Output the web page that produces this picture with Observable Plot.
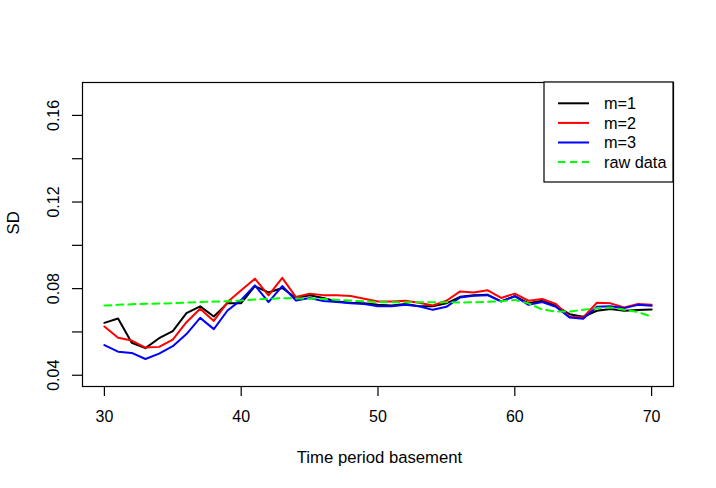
<!DOCTYPE html>
<html><head><meta charset="utf-8">
<script src="https://cdn.jsdelivr.net/npm/d3@7"></script>
<script src="https://cdn.jsdelivr.net/npm/@observablehq/plot@0.6"></script>
<style>body{margin:0;background:#fff}#chart{width:716px;height:488px}</style>
</head><body><div id="chart"></div>
<script>
const period = [30,31,32,33,34,35,36,37,38,39,40,41,42,43,44,45,46,47,48,49,50,51,52,53,54,55,56,57,58,59,60,61,62,63,64,65,66,67,68,69,70];
const m1 = [0.0642,0.0662,0.0550,0.0525,0.0571,0.0604,0.0687,0.0718,0.0671,0.0733,0.0733,0.0812,0.0782,0.0803,0.0757,0.0769,0.0757,0.0741,0.0735,0.0733,0.0726,0.0722,0.0729,0.0719,0.0719,0.0732,0.0762,0.0770,0.0772,0.0741,0.0765,0.0732,0.0744,0.0721,0.0682,0.0670,0.0698,0.0706,0.0698,0.0701,0.0704];
const m2 = [0.0625,0.0573,0.0560,0.0528,0.0531,0.0565,0.0645,0.0707,0.0651,0.0738,0.0792,0.0846,0.0769,0.0850,0.0761,0.0776,0.0770,0.0769,0.0766,0.0753,0.0741,0.0741,0.0744,0.0735,0.0722,0.0744,0.0787,0.0782,0.0793,0.0757,0.0777,0.0744,0.0752,0.0729,0.0670,0.0667,0.0735,0.0732,0.0713,0.0729,0.0725];
const m3 = [0.0539,0.0509,0.0503,0.0475,0.0500,0.0534,0.0590,0.0665,0.0613,0.0699,0.0748,0.0815,0.0738,0.0812,0.0745,0.0757,0.0743,0.0738,0.0732,0.0729,0.0719,0.0719,0.0725,0.0719,0.0702,0.0716,0.0759,0.0767,0.0770,0.0741,0.0765,0.0725,0.0738,0.0716,0.0667,0.0661,0.0716,0.0719,0.0710,0.0725,0.0721];
const raw = [0.0722,0.0725,0.0728,0.0730,0.0731,0.0733,0.0736,0.0738,0.0740,0.0742,0.0745,0.0750,0.0753,0.0756,0.0755,0.0754,0.0752,0.0748,0.0745,0.0741,0.0738,0.0737,0.0737,0.0737,0.0737,0.0737,0.0736,0.0737,0.0739,0.0742,0.0748,0.0732,0.0704,0.0694,0.0694,0.0702,0.0710,0.0713,0.0702,0.0692,0.0670];
const xTicks = [30,40,50,60,70];
const yTicks = [0.04,0.06,0.08,0.10,0.12,0.14,0.16];
const yLabels = [0.04,0.08,0.12,0.16];
const seriesNames = ["m=1","m=2","m=3","raw data"];
const seriesColors = ["#000000","#FF0000","#0000FF","#00FF00"];
const seriesDash = [null,null,null,"7,5"];

const seriesVals = [m1,m2,m3,raw];
const lineMarks = seriesVals.map((vals,i) => Plot.line(
  vals.map((v,j)=>({t:period[j], sd:v})),
  {x:"t", y:"sd", stroke:seriesColors[i], strokeWidth:2, strokeDasharray:seriesDash[i] ?? undefined, strokeLinejoin:"round"}
));

const svg = Plot.plot({
  width:716, height:488,
  marginLeft:82, marginRight:43, marginTop:82, marginBottom:102,
  style:{fontFamily:"'Liberation Sans', Arial, sans-serif", fontSize:"16px", background:"#fff", color:"#000"},
  x:{domain:[28.4,71.6]},
  y:{domain:[0.0348,0.1752]},
  marks:[
    Plot.axisX({ticks:xTicks, tickSize:10, tickPadding:14, label:null, fontSize:16, strokeWidth:1.2}),
    Plot.axisY({ticks:yTicks, tickSize:10, tickFormat:()=>"", label:null, strokeWidth:1.2}),
    Plot.text(yLabels, {y:d=>d, frameAnchor:"left", dx:-29, rotate:-90, text:d=>d.toFixed(2), textAnchor:"middle", lineAnchor:"middle", fontSize:16}),
    Plot.text(["Time period basement"], {frameAnchor:"bottom", dy:71, dx:1.5, text:d=>d, lineAnchor:"middle", fontSize:16.7}),
    Plot.text(["SD"], {frameAnchor:"left", dx:-69, rotate:-90, text:d=>d, lineAnchor:"middle", fontSize:16.7}),
    ...lineMarks,
    Plot.frame({stroke:"#000", strokeWidth:1.2})
  ]
});

// legend (inside top-right of the plot area)
const g = d3.select(svg).append("g").attr("text-anchor","start");
const lx = 544, ly = 82, lw = 129, lh = 100;
g.append("rect").attr("x",lx).attr("y",ly).attr("width",lw).attr("height",lh)
  .attr("fill","#fff").attr("stroke","#000").attr("stroke-width",1.2);
seriesNames.forEach((name,i)=>{
  const yy = 103.3 + i*19.6;
  g.append("line").attr("x1",558).attr("x2",589).attr("y1",yy).attr("y2",yy)
    .attr("stroke",seriesColors[i]).attr("stroke-width",2)
    .attr("stroke-dasharray",seriesDash[i]);
  g.append("text").attr("x",604).attr("y",yy).attr("dy","0.35em")
    .attr("text-anchor","start").attr("font-size",16.3).attr("fill","#000").text(name);
});

document.getElementById("chart").appendChild(svg);
</script>
</body></html>
